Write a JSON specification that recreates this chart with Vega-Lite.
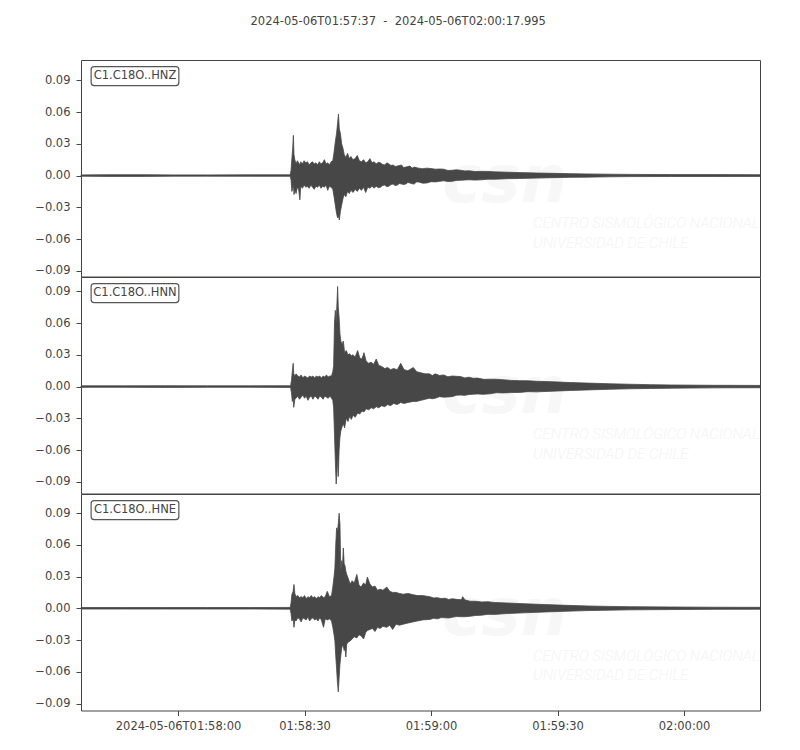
{
  "$schema": "https://vega.github.io/schema/vega-lite/v6.json",
  "background": "white",
  "padding": {"left": 34, "top": 16, "right": 30, "bottom": 10},
  "spacing": 0,
  "bounds": "flush",
  "title": {
    "text": "2024-05-06T01:57:37\u00a0\u00a0-\u00a0\u00a02024-05-06T02:00:17.995",
    "font": "DejaVu Sans",
    "fontSize": 11.5,
    "fontWeight": "normal",
    "color": "#444444",
    "anchor": "middle",
    "offset": 32
  },
  "config": {
    "view": {"stroke": "#444444", "strokeWidth": 1},
    "axis": {
      "labelFont": "DejaVu Sans",
      "labelFontSize": 11.5,
      "labelColor": "#444444",
      "tickColor": "#444444",
      "tickSize": 5,
      "labelPadding": 6,
      "labelOverlap": false,
      "labelFlush": false,
      "domain": false,
      "grid": false,
      "title": null
    }
  },
  "datasets": {
    "hnz": [
      {"t": 0, "l": -0.0006, "h": 0.0006},
      {"t": 6, "l": -0.0008, "h": 0.0008},
      {"t": 15, "l": -0.0008, "h": 0.0008},
      {"t": 22, "l": -0.0006, "h": 0.0006},
      {"t": 30, "l": -0.0006, "h": 0.0006},
      {"t": 40, "l": -0.0007, "h": 0.0007},
      {"t": 49.6, "l": -0.0007, "h": 0.0007},
      {"t": 49.8, "l": -0.004, "h": 0.005},
      {"t": 50.0, "l": -0.015, "h": 0.016},
      {"t": 50.2, "l": -0.012, "h": 0.026},
      {"t": 50.35, "l": -0.008, "h": 0.038},
      {"t": 50.5, "l": -0.018, "h": 0.02},
      {"t": 50.7, "l": -0.014, "h": 0.015},
      {"t": 51.0, "l": -0.017, "h": 0.011},
      {"t": 51.3, "l": -0.011, "h": 0.014},
      {"t": 51.6, "l": -0.013, "h": 0.012},
      {"t": 51.9, "l": -0.023, "h": 0.010},
      {"t": 52.1, "l": -0.010, "h": 0.013},
      {"t": 52.5, "l": -0.012, "h": 0.011},
      {"t": 52.9, "l": -0.009, "h": 0.014},
      {"t": 53.3, "l": -0.011, "h": 0.012},
      {"t": 53.7, "l": -0.010, "h": 0.013},
      {"t": 54.1, "l": -0.012, "h": 0.010},
      {"t": 54.5, "l": -0.009, "h": 0.012},
      {"t": 54.9, "l": -0.011, "h": 0.013},
      {"t": 55.3, "l": -0.013, "h": 0.011},
      {"t": 55.7, "l": -0.010, "h": 0.012},
      {"t": 56.1, "l": -0.011, "h": 0.010},
      {"t": 56.5, "l": -0.009, "h": 0.013},
      {"t": 56.9, "l": -0.012, "h": 0.011},
      {"t": 57.3, "l": -0.010, "h": 0.012},
      {"t": 57.7, "l": -0.011, "h": 0.015},
      {"t": 58.1, "l": -0.009, "h": 0.011},
      {"t": 58.5, "l": -0.014, "h": 0.012},
      {"t": 58.9, "l": -0.010, "h": 0.010},
      {"t": 59.3, "l": -0.011, "h": 0.013},
      {"t": 59.7, "l": -0.013, "h": 0.014},
      {"t": 60.0, "l": -0.020, "h": 0.022},
      {"t": 60.3, "l": -0.028, "h": 0.032},
      {"t": 60.6, "l": -0.036, "h": 0.040},
      {"t": 60.85, "l": -0.040, "h": 0.050},
      {"t": 61.05, "l": -0.038, "h": 0.058},
      {"t": 61.25, "l": -0.042, "h": 0.044},
      {"t": 61.5, "l": -0.034, "h": 0.040},
      {"t": 61.8, "l": -0.028, "h": 0.030},
      {"t": 62.1, "l": -0.022, "h": 0.026},
      {"t": 62.4, "l": -0.018, "h": 0.020},
      {"t": 62.8, "l": -0.020, "h": 0.017},
      {"t": 63.2, "l": -0.015, "h": 0.021},
      {"t": 63.6, "l": -0.017, "h": 0.016},
      {"t": 64.0, "l": -0.014, "h": 0.018},
      {"t": 64.5, "l": -0.016, "h": 0.015},
      {"t": 65.0, "l": -0.013, "h": 0.016},
      {"t": 65.5, "l": -0.015, "h": 0.019},
      {"t": 66.0, "l": -0.012, "h": 0.014},
      {"t": 66.5, "l": -0.014, "h": 0.013},
      {"t": 67.0, "l": -0.011, "h": 0.015},
      {"t": 67.5, "l": -0.016, "h": 0.012},
      {"t": 68.0, "l": -0.011, "h": 0.013},
      {"t": 68.5, "l": -0.012, "h": 0.016},
      {"t": 69.0, "l": -0.010, "h": 0.012},
      {"t": 69.5, "l": -0.012, "h": 0.013},
      {"t": 70.0, "l": -0.010, "h": 0.011},
      {"t": 70.5, "l": -0.0115, "h": 0.0125},
      {"t": 71, "l": -0.011, "h": 0.012},
      {"t": 71.5, "l": -0.0095, "h": 0.0105},
      {"t": 72, "l": -0.009, "h": 0.010},
      {"t": 72.5, "l": -0.0105, "h": 0.012},
      {"t": 73, "l": -0.010, "h": 0.011},
      {"t": 73.5, "l": -0.0085, "h": 0.0095},
      {"t": 74, "l": -0.008, "h": 0.010},
      {"t": 74.5, "l": -0.0095, "h": 0.0085},
      {"t": 75, "l": -0.009, "h": 0.009},
      {"t": 75.5, "l": -0.0075, "h": 0.0095},
      {"t": 76, "l": -0.008, "h": 0.010},
      {"t": 76.5, "l": -0.0085, "h": 0.0075},
      {"t": 77, "l": -0.008, "h": 0.008},
      {"t": 77.5, "l": -0.0065, "h": 0.0085},
      {"t": 78, "l": -0.007, "h": 0.009},
      {"t": 78.5, "l": -0.0078, "h": 0.007},
      {"t": 79, "l": -0.008, "h": 0.008},
      {"t": 79.5, "l": -0.0062, "h": 0.0075},
      {"t": 80, "l": -0.006, "h": 0.007},
      {"t": 81, "l": -0.0072, "h": 0.0065},
      {"t": 82, "l": -0.007, "h": 0.007},
      {"t": 83, "l": -0.0058, "h": 0.0066},
      {"t": 84, "l": -0.006, "h": 0.006},
      {"t": 85, "l": -0.0055, "h": 0.0062},
      {"t": 86, "l": -0.005, "h": 0.006},
      {"t": 87, "l": -0.0056, "h": 0.0048},
      {"t": 88, "l": -0.0055, "h": 0.005},
      {"t": 89, "l": -0.0046, "h": 0.0054},
      {"t": 90, "l": -0.0045, "h": 0.005},
      {"t": 91, "l": -0.0042, "h": 0.0044},
      {"t": 92, "l": -0.004, "h": 0.0045},
      {"t": 93.5, "l": -0.0043, "h": 0.0038},
      {"t": 95, "l": -0.004, "h": 0.004},
      {"t": 96.5, "l": -0.0034, "h": 0.0039},
      {"t": 98, "l": -0.0035, "h": 0.0035},
      {"t": 101, "l": -0.003, "h": 0.0032},
      {"t": 104, "l": -0.0028, "h": 0.0028},
      {"t": 108, "l": -0.0024, "h": 0.0024},
      {"t": 112, "l": -0.002, "h": 0.0021},
      {"t": 116, "l": -0.0017, "h": 0.0018},
      {"t": 120, "l": -0.0015, "h": 0.0015},
      {"t": 125, "l": -0.0012, "h": 0.0013},
      {"t": 130, "l": -0.001, "h": 0.0011},
      {"t": 140, "l": -0.0009, "h": 0.0009},
      {"t": 150, "l": -0.0009, "h": 0.0009},
      {"t": 160.995, "l": -0.0008, "h": 0.0008}
    ],
    "hnn": [
      {"t": 0, "l": -0.0007, "h": 0.0007},
      {"t": 10, "l": -0.0007, "h": 0.0007},
      {"t": 20, "l": -0.0008, "h": 0.0008},
      {"t": 30, "l": -0.0007, "h": 0.0007},
      {"t": 40, "l": -0.0007, "h": 0.0007},
      {"t": 49.7, "l": -0.0008, "h": 0.0008},
      {"t": 49.9, "l": -0.006, "h": 0.006},
      {"t": 50.1, "l": -0.014, "h": 0.014},
      {"t": 50.3, "l": -0.012, "h": 0.022},
      {"t": 50.45, "l": -0.0196, "h": 0.012},
      {"t": 50.7, "l": -0.012, "h": 0.010},
      {"t": 51.0, "l": -0.011, "h": 0.012},
      {"t": 51.4, "l": -0.009, "h": 0.010},
      {"t": 51.8, "l": -0.012, "h": 0.009},
      {"t": 52.2, "l": -0.010, "h": 0.011},
      {"t": 52.6, "l": -0.008, "h": 0.008},
      {"t": 53.0, "l": -0.011, "h": 0.010},
      {"t": 53.4, "l": -0.009, "h": 0.009},
      {"t": 53.8, "l": -0.013, "h": 0.008},
      {"t": 54.2, "l": -0.010, "h": 0.010},
      {"t": 54.6, "l": -0.009, "h": 0.009},
      {"t": 55.0, "l": -0.012, "h": 0.010},
      {"t": 55.4, "l": -0.009, "h": 0.008},
      {"t": 55.8, "l": -0.010, "h": 0.010},
      {"t": 56.2, "l": -0.012, "h": 0.009},
      {"t": 56.6, "l": -0.009, "h": 0.010},
      {"t": 57.0, "l": -0.010, "h": 0.008},
      {"t": 57.4, "l": -0.012, "h": 0.010},
      {"t": 57.8, "l": -0.009, "h": 0.009},
      {"t": 58.2, "l": -0.010, "h": 0.011},
      {"t": 58.6, "l": -0.011, "h": 0.009},
      {"t": 59.0, "l": -0.009, "h": 0.010},
      {"t": 59.4, "l": -0.011, "h": 0.010},
      {"t": 59.7, "l": -0.013, "h": 0.014},
      {"t": 59.9, "l": -0.020, "h": 0.020},
      {"t": 60.1, "l": -0.045, "h": 0.060},
      {"t": 60.3, "l": -0.070, "h": 0.072},
      {"t": 60.5, "l": -0.092, "h": 0.060},
      {"t": 60.7, "l": -0.080, "h": 0.080},
      {"t": 60.85, "l": -0.065, "h": 0.0945},
      {"t": 61.0, "l": -0.085, "h": 0.075},
      {"t": 61.2, "l": -0.060, "h": 0.065},
      {"t": 61.4, "l": -0.048, "h": 0.050},
      {"t": 61.6, "l": -0.042, "h": 0.043},
      {"t": 61.9, "l": -0.038, "h": 0.040},
      {"t": 62.2, "l": -0.035, "h": 0.043},
      {"t": 62.5, "l": -0.039, "h": 0.032},
      {"t": 62.9, "l": -0.030, "h": 0.034},
      {"t": 63.3, "l": -0.033, "h": 0.030},
      {"t": 63.7, "l": -0.028, "h": 0.031},
      {"t": 64.1, "l": -0.031, "h": 0.029},
      {"t": 64.5, "l": -0.027, "h": 0.030},
      {"t": 65.0, "l": -0.029, "h": 0.028},
      {"t": 65.6, "l": -0.025, "h": 0.034},
      {"t": 66.1, "l": -0.026, "h": 0.027},
      {"t": 66.6, "l": -0.023, "h": 0.026},
      {"t": 67.1, "l": -0.024, "h": 0.032},
      {"t": 67.6, "l": -0.021, "h": 0.024},
      {"t": 68.2, "l": -0.022, "h": 0.022},
      {"t": 68.8, "l": -0.020, "h": 0.023},
      {"t": 69.4, "l": -0.021, "h": 0.021},
      {"t": 70.0, "l": -0.019, "h": 0.026},
      {"t": 70.6, "l": -0.020, "h": 0.020},
      {"t": 71.3, "l": -0.018, "h": 0.019},
      {"t": 72.0, "l": -0.019, "h": 0.017},
      {"t": 72.7, "l": -0.017, "h": 0.018},
      {"t": 73.4, "l": -0.018, "h": 0.016},
      {"t": 74.1, "l": -0.016, "h": 0.017},
      {"t": 75.0, "l": -0.017, "h": 0.016},
      {"t": 75.8, "l": -0.015, "h": 0.022},
      {"t": 76.6, "l": -0.016, "h": 0.016},
      {"t": 77.5, "l": -0.015, "h": 0.015},
      {"t": 78.8, "l": -0.014, "h": 0.018},
      {"t": 79.6, "l": -0.014, "h": 0.014},
      {"t": 80.6, "l": -0.013, "h": 0.013},
      {"t": 81.6, "l": -0.012, "h": 0.012},
      {"t": 82.6, "l": -0.011, "h": 0.012},
      {"t": 83.3, "l": -0.0115, "h": 0.0105},
      {"t": 84, "l": -0.011, "h": 0.012},
      {"t": 85, "l": -0.0095, "h": 0.0105},
      {"t": 86, "l": -0.010, "h": 0.011},
      {"t": 87, "l": -0.0098, "h": 0.0092},
      {"t": 88, "l": -0.0095, "h": 0.010},
      {"t": 89, "l": -0.0082, "h": 0.0097},
      {"t": 90, "l": -0.008, "h": 0.0095},
      {"t": 91, "l": -0.0083, "h": 0.0082},
      {"t": 92, "l": -0.0075, "h": 0.0088},
      {"t": 93, "l": -0.0072, "h": 0.0078},
      {"t": 94, "l": -0.007, "h": 0.008},
      {"t": 95.5, "l": -0.0073, "h": 0.0068},
      {"t": 97, "l": -0.0068, "h": 0.007},
      {"t": 98.5, "l": -0.0058, "h": 0.0069},
      {"t": 100, "l": -0.006, "h": 0.0065},
      {"t": 102, "l": -0.0057, "h": 0.0058},
      {"t": 104, "l": -0.0055, "h": 0.0056},
      {"t": 106, "l": -0.0048, "h": 0.0055},
      {"t": 108, "l": -0.005, "h": 0.005},
      {"t": 112, "l": -0.0043, "h": 0.0045},
      {"t": 116, "l": -0.0037, "h": 0.0038},
      {"t": 120, "l": -0.0032, "h": 0.0033},
      {"t": 125, "l": -0.0026, "h": 0.0027},
      {"t": 130, "l": -0.0021, "h": 0.0022},
      {"t": 135, "l": -0.0018, "h": 0.0018},
      {"t": 140, "l": -0.0015, "h": 0.0015},
      {"t": 150, "l": -0.0012, "h": 0.0012},
      {"t": 160.995, "l": -0.0011, "h": 0.0011}
    ],
    "hne": [
      {"t": 0, "l": -0.0007, "h": 0.0007},
      {"t": 10, "l": -0.0007, "h": 0.0007},
      {"t": 20, "l": -0.0007, "h": 0.0007},
      {"t": 30, "l": -0.0007, "h": 0.0007},
      {"t": 40, "l": -0.0007, "h": 0.0007},
      {"t": 49.6, "l": -0.0008, "h": 0.0008},
      {"t": 49.8, "l": -0.005, "h": 0.005},
      {"t": 50.0, "l": -0.012, "h": 0.013},
      {"t": 50.3, "l": -0.010, "h": 0.016},
      {"t": 50.5, "l": -0.018, "h": 0.0225},
      {"t": 50.7, "l": -0.011, "h": 0.014},
      {"t": 51.0, "l": -0.012, "h": 0.011},
      {"t": 51.4, "l": -0.009, "h": 0.012},
      {"t": 51.8, "l": -0.010, "h": 0.010},
      {"t": 52.2, "l": -0.013, "h": 0.011},
      {"t": 52.6, "l": -0.009, "h": 0.010},
      {"t": 53.0, "l": -0.010, "h": 0.012},
      {"t": 53.4, "l": -0.011, "h": 0.009},
      {"t": 53.8, "l": -0.008, "h": 0.011},
      {"t": 54.2, "l": -0.012, "h": 0.010},
      {"t": 54.6, "l": -0.010, "h": 0.012},
      {"t": 55.0, "l": -0.009, "h": 0.010},
      {"t": 55.4, "l": -0.011, "h": 0.011},
      {"t": 55.8, "l": -0.010, "h": 0.009},
      {"t": 56.2, "l": -0.012, "h": 0.011},
      {"t": 56.6, "l": -0.009, "h": 0.010},
      {"t": 57.0, "l": -0.011, "h": 0.012},
      {"t": 57.5, "l": -0.018, "h": 0.010},
      {"t": 57.9, "l": -0.010, "h": 0.011},
      {"t": 58.4, "l": -0.011, "h": 0.016},
      {"t": 58.9, "l": -0.010, "h": 0.011},
      {"t": 59.4, "l": -0.012, "h": 0.012},
      {"t": 59.7, "l": -0.018, "h": 0.020},
      {"t": 60.0, "l": -0.025, "h": 0.030},
      {"t": 60.2, "l": -0.031, "h": 0.038},
      {"t": 60.4, "l": -0.045, "h": 0.060},
      {"t": 60.6, "l": -0.057, "h": 0.076},
      {"t": 60.8, "l": -0.070, "h": 0.072},
      {"t": 61.0, "l": -0.079, "h": 0.080},
      {"t": 61.2, "l": -0.066, "h": 0.0898},
      {"t": 61.4, "l": -0.053, "h": 0.080},
      {"t": 61.6, "l": -0.045, "h": 0.034},
      {"t": 61.8, "l": -0.038, "h": 0.045},
      {"t": 62.0, "l": -0.035, "h": 0.040},
      {"t": 62.2, "l": -0.036, "h": 0.057},
      {"t": 62.4, "l": -0.040, "h": 0.042},
      {"t": 62.6, "l": -0.038, "h": 0.040},
      {"t": 62.8, "l": -0.046, "h": 0.035},
      {"t": 63.0, "l": -0.034, "h": 0.032},
      {"t": 63.3, "l": -0.032, "h": 0.029},
      {"t": 63.8, "l": -0.031, "h": 0.023},
      {"t": 64.3, "l": -0.029, "h": 0.026},
      {"t": 64.8, "l": -0.027, "h": 0.024},
      {"t": 65.4, "l": -0.028, "h": 0.032},
      {"t": 65.9, "l": -0.025, "h": 0.022},
      {"t": 66.4, "l": -0.026, "h": 0.020},
      {"t": 67.0, "l": -0.029, "h": 0.024},
      {"t": 67.5, "l": -0.023, "h": 0.022},
      {"t": 67.9, "l": -0.021, "h": 0.0295},
      {"t": 68.5, "l": -0.020, "h": 0.023},
      {"t": 69.1, "l": -0.019, "h": 0.020},
      {"t": 69.7, "l": -0.022, "h": 0.021},
      {"t": 70.3, "l": -0.018, "h": 0.017},
      {"t": 70.9, "l": -0.019, "h": 0.018},
      {"t": 71.6, "l": -0.017, "h": 0.017},
      {"t": 72.5, "l": -0.018, "h": 0.020},
      {"t": 73.2, "l": -0.016, "h": 0.016},
      {"t": 73.9, "l": -0.020, "h": 0.015},
      {"t": 74.7, "l": -0.015, "h": 0.015},
      {"t": 75.5, "l": -0.016, "h": 0.014},
      {"t": 76.4, "l": -0.015, "h": 0.0133},
      {"t": 77.5, "l": -0.014, "h": 0.014},
      {"t": 78.6, "l": -0.013, "h": 0.013},
      {"t": 79.7, "l": -0.012, "h": 0.012},
      {"t": 81, "l": -0.011, "h": 0.012},
      {"t": 82.7, "l": -0.0105, "h": 0.011},
      {"t": 83.6, "l": -0.0095, "h": 0.0098},
      {"t": 84.5, "l": -0.010, "h": 0.010},
      {"t": 85.4, "l": -0.0088, "h": 0.0092},
      {"t": 86.3, "l": -0.009, "h": 0.0095},
      {"t": 87.2, "l": -0.0092, "h": 0.0083},
      {"t": 88, "l": -0.0085, "h": 0.009},
      {"t": 89, "l": -0.0078, "h": 0.0085},
      {"t": 90.2, "l": -0.008, "h": 0.008},
      {"t": 90.5, "l": -0.008, "h": 0.011},
      {"t": 91, "l": -0.008, "h": 0.008},
      {"t": 92.2, "l": -0.0076, "h": 0.0067},
      {"t": 93.6, "l": -0.0068, "h": 0.0066},
      {"t": 95, "l": -0.0065, "h": 0.006},
      {"t": 96.5, "l": -0.0057, "h": 0.0062},
      {"t": 98, "l": -0.0058, "h": 0.0055},
      {"t": 101, "l": -0.005, "h": 0.005},
      {"t": 105, "l": -0.0043, "h": 0.0043},
      {"t": 110, "l": -0.0035, "h": 0.0035},
      {"t": 115, "l": -0.0028, "h": 0.0028},
      {"t": 120, "l": -0.0022, "h": 0.0022},
      {"t": 125, "l": -0.0018, "h": 0.0018},
      {"t": 130, "l": -0.0015, "h": 0.0015},
      {"t": 140, "l": -0.0012, "h": 0.0012},
      {"t": 150, "l": -0.001, "h": 0.001},
      {"t": 160.995, "l": -0.0009, "h": 0.0009}
    ]
  },
  "vconcat": [
    {
      "width": 679,
      "height": 216.5,
      "layer": [
        {
          "data": {"values": [{"t": 100.5, "y": -0.0062, "s": "csn"}]},
          "mark": {"type": "text", "font": "DejaVu Sans", "fontWeight": "bold", "fontStyle": "italic", "fontSize": 66, "color": "#f7f7f7", "baseline": "middle", "align": "center"},
          "encoding": {
            "x": {"field": "t", "type": "quantitative", "scale": {"domain": [0, 160.995], "nice": false, "zero": false}, "axis": null},
            "y": {"field": "y", "type": "quantitative", "scale": {"domain": [-0.0954, 0.1092], "nice": false, "zero": false}, "axis": {"values": [-0.09, -0.06, -0.03, 0, 0.03, 0.06, 0.09], "format": ".2f", "tickCount": 10, "labelOverlap": false}},
            "text": {"field": "s"}
          }
        },
        {
          "data": {"values": [{"t": 107.2, "y": -0.045, "s": "CENTRO SISMOLÓGICO NACIONAL"}, {"t": 107.2, "y": -0.0635, "s": "UNIVERSIDAD DE CHILE"}]},
          "mark": {"type": "text", "font": "Roboto", "fontWeight": 300, "fontStyle": "italic", "fontSize": 15, "color": "#f4f4f4", "baseline": "middle", "align": "left"},
          "encoding": {
            "x": {"field": "t", "type": "quantitative", "scale": {"domain": [0, 160.995], "nice": false, "zero": false}, "axis": null},
            "y": {"field": "y", "type": "quantitative", "scale": {"domain": [-0.0954, 0.1092], "nice": false, "zero": false}},
            "text": {"field": "s"}
          }
        },
        {
          "data": {"name": "hnz"},
          "mark": {"type": "area", "color": "#474747", "stroke": "#474747", "strokeWidth": 0.8},
          "encoding": {
            "x": {"field": "t", "type": "quantitative", "scale": {"domain": [0, 160.995], "nice": false, "zero": false}, "axis": null},
            "y": {"field": "h", "type": "quantitative", "scale": {"domain": [-0.0954, 0.1092], "nice": false, "zero": false}, "axis": {"values": [-0.09, -0.06, -0.03, 0, 0.03, 0.06, 0.09], "format": ".2f", "tickCount": 10, "labelOverlap": false}},
            "y2": {"field": "l"}
          }
        },
        {
          "data": {"values": [{"x1": 2.4, "x2": 23.2, "y1": 0.103, "y2": 0.085}]},
          "mark": {"type": "rect", "fill": "white", "stroke": "#555555", "strokeWidth": 1.2, "cornerRadius": 3},
          "encoding": {
            "x": {"field": "x1", "type": "quantitative", "scale": {"domain": [0, 160.995], "nice": false, "zero": false}},
            "x2": {"field": "x2"},
            "y": {"field": "y1", "type": "quantitative", "scale": {"domain": [-0.0954, 0.1092], "nice": false, "zero": false}},
            "y2": {"field": "y2"}
          }
        },
        {
          "data": {"values": [{"t": 12.8, "y": 0.094, "s": "C1.C18O..HNZ"}]},
          "mark": {"type": "text", "font": "DejaVu Sans", "fontSize": 11.5, "color": "#444444", "baseline": "middle", "align": "center"},
          "encoding": {
            "x": {"field": "t", "type": "quantitative", "scale": {"domain": [0, 160.995], "nice": false, "zero": false}},
            "y": {"field": "y", "type": "quantitative", "scale": {"domain": [-0.0954, 0.1092], "nice": false, "zero": false}},
            "text": {"field": "s"}
          }
        }
      ]
    },
    {
      "width": 679,
      "height": 216.5,
      "layer": [
        {
          "data": {"values": [{"t": 100.5, "y": -0.0062, "s": "csn"}]},
          "mark": {"type": "text", "font": "DejaVu Sans", "fontWeight": "bold", "fontStyle": "italic", "fontSize": 66, "color": "#f7f7f7", "baseline": "middle", "align": "center"},
          "encoding": {
            "x": {"field": "t", "type": "quantitative", "scale": {"domain": [0, 160.995], "nice": false, "zero": false}, "axis": null},
            "y": {"field": "y", "type": "quantitative", "scale": {"domain": [-0.101, 0.1035], "nice": false, "zero": false}, "axis": {"values": [-0.09, -0.06, -0.03, 0, 0.03, 0.06, 0.09], "format": ".2f", "tickCount": 10, "labelOverlap": false}},
            "text": {"field": "s"}
          }
        },
        {
          "data": {"values": [{"t": 107.2, "y": -0.045, "s": "CENTRO SISMOLÓGICO NACIONAL"}, {"t": 107.2, "y": -0.0635, "s": "UNIVERSIDAD DE CHILE"}]},
          "mark": {"type": "text", "font": "Roboto", "fontWeight": 300, "fontStyle": "italic", "fontSize": 15, "color": "#f4f4f4", "baseline": "middle", "align": "left"},
          "encoding": {
            "x": {"field": "t", "type": "quantitative", "scale": {"domain": [0, 160.995], "nice": false, "zero": false}, "axis": null},
            "y": {"field": "y", "type": "quantitative", "scale": {"domain": [-0.101, 0.1035], "nice": false, "zero": false}},
            "text": {"field": "s"}
          }
        },
        {
          "data": {"name": "hnn"},
          "mark": {"type": "area", "color": "#474747", "stroke": "#474747", "strokeWidth": 0.8},
          "encoding": {
            "x": {"field": "t", "type": "quantitative", "scale": {"domain": [0, 160.995], "nice": false, "zero": false}, "axis": null},
            "y": {"field": "h", "type": "quantitative", "scale": {"domain": [-0.101, 0.1035], "nice": false, "zero": false}, "axis": {"values": [-0.09, -0.06, -0.03, 0, 0.03, 0.06, 0.09], "format": ".2f", "tickCount": 10, "labelOverlap": false}},
            "y2": {"field": "l"}
          }
        },
        {
          "data": {"values": [{"x1": 2.4, "x2": 23.2, "y1": 0.0973, "y2": 0.0793}]},
          "mark": {"type": "rect", "fill": "white", "stroke": "#555555", "strokeWidth": 1.2, "cornerRadius": 3},
          "encoding": {
            "x": {"field": "x1", "type": "quantitative", "scale": {"domain": [0, 160.995], "nice": false, "zero": false}},
            "x2": {"field": "x2"},
            "y": {"field": "y1", "type": "quantitative", "scale": {"domain": [-0.101, 0.1035], "nice": false, "zero": false}},
            "y2": {"field": "y2"}
          }
        },
        {
          "data": {"values": [{"t": 12.8, "y": 0.0883, "s": "C1.C18O..HNN"}]},
          "mark": {"type": "text", "font": "DejaVu Sans", "fontSize": 11.5, "color": "#444444", "baseline": "middle", "align": "center"},
          "encoding": {
            "x": {"field": "t", "type": "quantitative", "scale": {"domain": [0, 160.995], "nice": false, "zero": false}},
            "y": {"field": "y", "type": "quantitative", "scale": {"domain": [-0.101, 0.1035], "nice": false, "zero": false}},
            "text": {"field": "s"}
          }
        }
      ]
    },
    {
      "width": 679,
      "height": 216.5,
      "layer": [
        {
          "data": {"values": [{"t": 100.5, "y": -0.0062, "s": "csn"}]},
          "mark": {"type": "text", "font": "DejaVu Sans", "fontWeight": "bold", "fontStyle": "italic", "fontSize": 66, "color": "#f7f7f7", "baseline": "middle", "align": "center"},
          "encoding": {
            "x": {
              "field": "t",
              "type": "quantitative",
              "scale": {"domain": [0, 160.995], "nice": false, "zero": false},
              "axis": {
                "values": [23, 53, 83, 113, 143],
                "labelExpr": "datum.value == 23 ? '2024-05-06T01:58:00' : datum.value == 53 ? '01:58:30' : datum.value == 83 ? '01:59:00' : datum.value == 113 ? '01:59:30' : '02:00:00'",
                "labelPadding": 5,
                "tickCount": 10,
                "labelOverlap": false
              }
            },
            "y": {"field": "y", "type": "quantitative", "scale": {"domain": [-0.0966, 0.108], "nice": false, "zero": false}, "axis": {"values": [-0.09, -0.06, -0.03, 0, 0.03, 0.06, 0.09], "format": ".2f", "tickCount": 10, "labelOverlap": false}},
            "text": {"field": "s"}
          }
        },
        {
          "data": {"values": [{"t": 107.2, "y": -0.045, "s": "CENTRO SISMOLÓGICO NACIONAL"}, {"t": 107.2, "y": -0.0635, "s": "UNIVERSIDAD DE CHILE"}]},
          "mark": {"type": "text", "font": "Roboto", "fontWeight": 300, "fontStyle": "italic", "fontSize": 15, "color": "#f4f4f4", "baseline": "middle", "align": "left"},
          "encoding": {
            "x": {"field": "t", "type": "quantitative", "scale": {"domain": [0, 160.995], "nice": false, "zero": false}},
            "y": {"field": "y", "type": "quantitative", "scale": {"domain": [-0.0966, 0.108], "nice": false, "zero": false}},
            "text": {"field": "s"}
          }
        },
        {
          "data": {"name": "hne"},
          "mark": {"type": "area", "color": "#474747", "stroke": "#474747", "strokeWidth": 0.8},
          "encoding": {
            "x": {
              "field": "t",
              "type": "quantitative",
              "scale": {"domain": [0, 160.995], "nice": false, "zero": false},
              "axis": {
                "values": [23, 53, 83, 113, 143],
                "labelExpr": "datum.value == 23 ? '2024-05-06T01:58:00' : datum.value == 53 ? '01:58:30' : datum.value == 83 ? '01:59:00' : datum.value == 113 ? '01:59:30' : '02:00:00'",
                "labelPadding": 5,
                "tickCount": 10,
                "labelOverlap": false
              }
            },
            "y": {"field": "h", "type": "quantitative", "scale": {"domain": [-0.0966, 0.108], "nice": false, "zero": false}, "axis": {"values": [-0.09, -0.06, -0.03, 0, 0.03, 0.06, 0.09], "format": ".2f", "tickCount": 10, "labelOverlap": false}},
            "y2": {"field": "l"}
          }
        },
        {
          "data": {"values": [{"x1": 2.4, "x2": 23.2, "y1": 0.1018, "y2": 0.0838}]},
          "mark": {"type": "rect", "fill": "white", "stroke": "#555555", "strokeWidth": 1.2, "cornerRadius": 3},
          "encoding": {
            "x": {"field": "x1", "type": "quantitative", "scale": {"domain": [0, 160.995], "nice": false, "zero": false}},
            "x2": {"field": "x2"},
            "y": {"field": "y1", "type": "quantitative", "scale": {"domain": [-0.0966, 0.108], "nice": false, "zero": false}},
            "y2": {"field": "y2"}
          }
        },
        {
          "data": {"values": [{"t": 12.8, "y": 0.0928, "s": "C1.C18O..HNE"}]},
          "mark": {"type": "text", "font": "DejaVu Sans", "fontSize": 11.5, "color": "#444444", "baseline": "middle", "align": "center"},
          "encoding": {
            "x": {"field": "t", "type": "quantitative", "scale": {"domain": [0, 160.995], "nice": false, "zero": false}},
            "y": {"field": "y", "type": "quantitative", "scale": {"domain": [-0.0966, 0.108], "nice": false, "zero": false}},
            "text": {"field": "s"}
          }
        }
      ]
    }
  ]
}
